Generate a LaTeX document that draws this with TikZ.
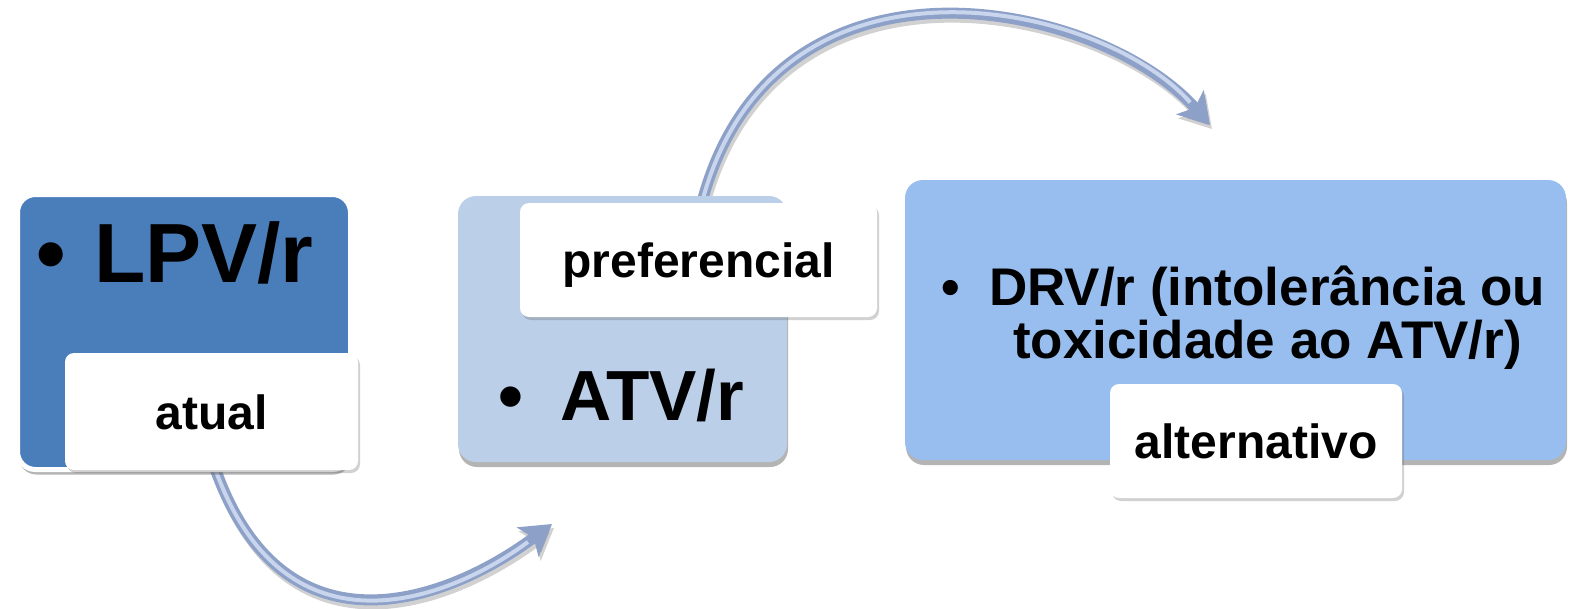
\documentclass[tikz,border=0pt]{standalone}
\usepackage{fontspec}
\setmainfont{Liberation Sans}
\usetikzlibrary{arrows.meta,shadows}
\pgfdeclarelayer{back}
\pgfsetlayers{back,main}
\definecolor{boxA}{RGB}{74,126,187}
\definecolor{boxB}{RGB}{187,207,233}
\definecolor{boxC}{RGB}{151,190,238}
\definecolor{arrowc}{RGB}{140,160,200}
\definecolor{arrowhi}{RGB}{200,213,236}
\newcommand\fsz[1]{\fontsize{#1}{#1}\selectfont\bfseries}
\begin{document}
\begin{tikzpicture}[x=1pt,y=-1pt,
  bigbox/.style={rounded corners=18pt, inner sep=0pt,
    drop shadow={shadow xshift=1pt, shadow yshift=-5pt, opacity=0.45, fill=black!65}},
  tag/.style={fill=white, rounded corners=9pt, inner sep=0pt, text height=35pt, text depth=0pt,
    font=\fsz{48},
    drop shadow={shadow xshift=2pt, shadow yshift=-3pt, opacity=0.3, fill=black!60}},
  bigtext/.style={inner sep=0pt, anchor=base west},
  bullettext/.style={inner sep=0pt, anchor=base},
  curvearrow/.style={draw=arrowc, line width=11pt,
    -{Stealth[length=30pt,width=36pt,inset=7pt]},
    preaction={draw=black, opacity=0.18, line width=11pt, transform canvas={xshift=2pt,yshift=-4pt}},
    postaction={draw=arrowhi, line width=4pt, shorten >=30pt, arrows=-}}
]
\useasboundingbox (0,0) rectangle (1572,608);

% main boxes
\node[bigbox, fill=boxA, draw=white, line width=5pt, minimum width=333pt, minimum height=275pt] (box1) at (184,332) {};
\node[bigbox, fill=boxB, minimum width=329pt, minimum height=266pt] (box2) at (622.5,329) {};
\node[bigbox, fill=boxC, minimum width=661pt, minimum height=280pt] (box3) at (1235.5,320) {};

% main texts
\node[bullettext, font=\fsz{84}] (b1) at (51,282) {•};
\node[bigtext, font=\fsz{84}] (t1) at (94,282) {LPV/r};
\node[bullettext, font=\fsz{71}] (b2) at (511,420) {•};
\node[bigtext, font=\fsz{71}] (t2) at (560,420) {ATV/r};
\node[bullettext, font=\fsz{53}] (b3) at (951,305) {•};
\node[bigtext, font=\fsz{53}] (t3a) at (989,305) {DRV/r (intolerância ou};
\node[bigtext, font=\fsz{53}] (t3b) at (1013,358) {toxicidade ao ATV/r)};

% tags
\node[tag, minimum width=293pt, minimum height=117pt] (atual) at (211.5,411.5) {atual};
\node[tag, minimum width=357pt, minimum height=114pt] (pref) at (698.5,260) {preferencial};
\node[tag, minimum width=292pt, minimum height=114pt] (alt) at (1256,441) {alternativo};

% arrows
\coordinate (a1e) at (552,524);
\coordinate (a2s) at ([xshift=78pt,yshift=-12pt]box2.north);
\coordinate (a2e) at (1210,125);
\begin{pgfonlayer}{back}
\draw[curvearrow] ([yshift=12pt]atual.south) .. controls (280,668) and (450,600) .. (a1e);
\draw[curvearrow] (a2s) .. controls (770,-70) and (1100,0) .. (a2e);
\end{pgfonlayer}
\end{tikzpicture}
\end{document}
